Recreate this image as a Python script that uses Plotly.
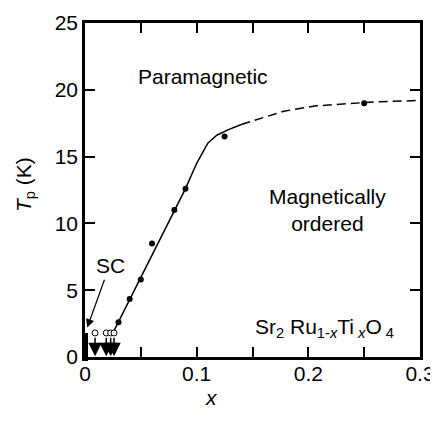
import plotly.graph_objects as go

# Data
x_filled = [0.03, 0.04, 0.05, 0.06, 0.08, 0.09, 0.125, 0.25]
y_filled = [2.6, 4.35, 5.8, 8.5, 11.0, 12.6, 16.5, 19.0]

x_open = [0.009, 0.019, 0.023, 0.026]
y_open = [1.8, 1.8, 1.8, 1.8]

x_solid = [0.025, 0.09, 0.1, 0.105, 0.11, 0.118, 0.128, 0.14]
y_solid = [1.8, 12.6, 14.5, 15.3, 16.0, 16.6, 17.0, 17.4]

x_dash = [0.14, 0.148, 0.178, 0.207, 0.237, 0.26, 0.3]
y_dash = [17.4, 17.6, 18.4, 18.8, 19.0, 19.1, 19.2]

sc_x = [0.0]
sc_tc = [1.5]

x_tickvals = [0, 0.05, 0.1, 0.15, 0.2, 0.25, 0.3]
x_ticktext = ["0", "", "0.1", "", "0.2", "", "0.3"]
y_tickvals = [0, 5, 10, 15, 20, 25]
y_ticktext = ["0", "5", "10", "15", "20", "25"]

FONT = "Liberation Sans, Arial, sans-serif"

fig = go.Figure()

fig.add_trace(go.Scatter(x=x_solid, y=y_solid, mode="lines",
                         line=dict(color="black", width=1.5), showlegend=False))
fig.add_trace(go.Scatter(x=x_dash, y=y_dash, mode="lines",
                         line=dict(color="black", width=1.5, dash="9px,5px"), showlegend=False))
fig.add_trace(go.Scatter(x=x_filled, y=y_filled, mode="markers",
                         marker=dict(color="black", size=6), showlegend=False))
# superconducting Tc bar at x = 0
fig.add_trace(go.Scatter(x=sc_x, y=[t / 2 for t in sc_tc], mode="markers",
                         marker=dict(symbol="line-ns", size=20,
                                     line=dict(color="black", width=6)),
                         cliponaxis=False, showlegend=False))
fig.add_trace(go.Scatter(x=x_open, y=y_open, mode="markers",
                         marker=dict(color="white", size=6,
                                     line=dict(color="black", width=1)),
                         cliponaxis=False, showlegend=False))

annotations = []
for xo, yo in zip(x_open, y_open):
    annotations.append(dict(x=xo, y=0.05, ax=xo, ay=yo - 0.25, xref="x", yref="y",
                            axref="x", ayref="y", showarrow=True, arrowhead=2,
                            arrowsize=1.8, arrowwidth=1.5, arrowcolor="black", text=""))

annotations.append(dict(x=0.002, y=2.2, ax=0.0179, ay=5.9, xref="x", yref="y",
                        axref="x", ayref="y", showarrow=True, arrowhead=2,
                        arrowsize=1.4, arrowwidth=1.2, arrowcolor="black", text=""))

annotations += [
    dict(x=0.0224, y=6.86, xref="x", yref="y", text="SC", showarrow=False,
         font=dict(size=21, family=FONT, color="black")),
    dict(x=0.1056, y=21.0, xref="x", yref="y", text="Paramagnetic", showarrow=False,
         font=dict(size=21, family=FONT, color="black")),
    dict(x=0.2175, y=11.0, xref="x", yref="y", text="Magnetically<br>ordered",
         showarrow=False, font=dict(size=21, family=FONT, color="black")),
    dict(x=0.2144, y=2.2, xref="x", yref="y",
         text="Sr<sub>2</sub> Ru<sub>1-<i>x</i></sub>Ti<sub> <i>x</i></sub>O<sub> 4</sub>",
         showarrow=False, font=dict(size=21, family=FONT, color="black")),
    dict(x=-0.179, y=0.515, xref="paper", yref="paper", text="<i>T</i><sub>p</sub> (K)",
         xanchor="center", yanchor="middle",
         textangle=-90, showarrow=False, font=dict(size=21, family=FONT, color="black")),
    dict(x=0.379, y=-0.12, xref="paper", yref="paper", text="<i>x</i>",
         xanchor="center", yanchor="middle",
         showarrow=False, font=dict(size=21, family=FONT, color="black")),
]

axis_common = dict(showline=True, linecolor="black", linewidth=2.5, mirror="ticks",
                   ticks="inside", ticklen=10, tickwidth=2, tickcolor="black",
                   showgrid=False, zeroline=False, automargin=False,
                   tickfont=dict(size=21, family=FONT, color="black"))

fig.update_xaxes(range=[0, 0.3], tickvals=x_tickvals, ticktext=x_ticktext,
                 ticklabelstandoff=-4, **axis_common)
fig.update_yaxes(range=[0, 25], tickvals=y_tickvals, ticktext=y_ticktext, **axis_common)

# page body has an 8px default margin, so the figure is offset to fit the window
fig.update_layout(width=438, height=400, margin=dict(l=77, r=26, t=15, b=51),
                  plot_bgcolor="white", paper_bgcolor="white",
                  annotations=annotations, font=dict(family=FONT, color="black"))

fig.write_html("out.html")
